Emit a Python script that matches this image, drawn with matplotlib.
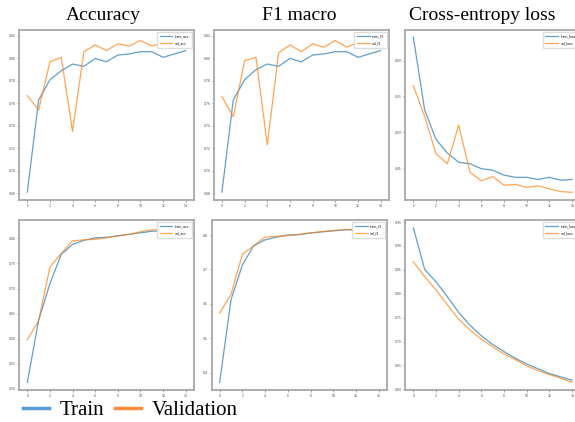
import matplotlib
matplotlib.use("Agg")
import matplotlib.pyplot as plt
from matplotlib.lines import Line2D
from matplotlib.ticker import MultipleLocator

epochs = list(range(15))

# top row: run 1
train_acc_1 = [0.681, 0.763, 0.781, 0.789, 0.795, 0.793, 0.800, 0.797, 0.803, 0.804, 0.806, 0.806, 0.801, 0.804, 0.807]
val_acc_1 = [0.767, 0.754, 0.797, 0.801, 0.735, 0.806, 0.812, 0.807, 0.813, 0.811, 0.816, 0.811, 0.814, 0.816, 0.815]
train_f1_1 = [0.681, 0.763, 0.781, 0.790, 0.795, 0.793, 0.800, 0.797, 0.803, 0.804, 0.806, 0.806, 0.801, 0.804, 0.807]
val_f1_1 = [0.766, 0.748, 0.798, 0.801, 0.723, 0.805, 0.812, 0.806, 0.813, 0.810, 0.816, 0.810, 0.814, 0.816, 0.815]
train_loss_1 = [0.633, 0.531, 0.490, 0.471, 0.458, 0.456, 0.449, 0.447, 0.440, 0.437, 0.437, 0.434, 0.437, 0.433, 0.434]
val_loss_1 = [0.565, 0.522, 0.470, 0.456, 0.510, 0.444, 0.432, 0.438, 0.426, 0.427, 0.423, 0.425, 0.421, 0.417, 0.416]

# bottom row: run 2
train_acc_2 = [0.513, 0.637, 0.710, 0.768, 0.788, 0.796, 0.801, 0.802, 0.805, 0.808, 0.811, 0.814, 0.815, 0.816, 0.817]
val_acc_2 = [0.598, 0.636, 0.743, 0.770, 0.795, 0.797, 0.798, 0.801, 0.805, 0.808, 0.813, 0.817, 0.817, 0.818, 0.818]
train_f1_2 = [0.372, 0.612, 0.713, 0.769, 0.786, 0.794, 0.800, 0.801, 0.806, 0.809, 0.812, 0.815, 0.815, 0.817, 0.818]
val_f1_2 = [0.573, 0.628, 0.744, 0.769, 0.794, 0.796, 0.798, 0.802, 0.806, 0.810, 0.813, 0.816, 0.816, 0.818, 0.818]
train_loss_2 = [0.938, 0.851, 0.825, 0.794, 0.761, 0.734, 0.712, 0.694, 0.679, 0.665, 0.653, 0.643, 0.633, 0.626, 0.619]
val_loss_2 = [0.867, 0.836, 0.808, 0.777, 0.747, 0.724, 0.705, 0.689, 0.674, 0.662, 0.649, 0.639, 0.631, 0.623, 0.615]

titles = ["Accuracy", "F1 macro", "Cross-entropy loss"]

W, H = 575, 422
fig = plt.figure(figsize=(W / 100, H / 100), dpi=100)

# panel boxes in pixels: left, right, top, bottom
boxes = [
    (19.4, 193.6, 30, 200), (214, 388.6, 30, 200), (405.4, 580, 30, 200),
    (19.4, 193.6, 220, 390), (211.7, 386.6, 220, 390), (405.4, 580, 220, 390),
]
panels = [
    (train_acc_1, val_acc_1, "train_acc", "val_acc", (0.674, 0.8253), 0.02),
    (train_f1_1, val_f1_1, "train_f1", "val_f1", (0.674, 0.8253), 0.02),
    (train_loss_1, val_loss_1, "train_loss", "val_loss", (0.4053, 0.6429), 0.05),
    (train_acc_2, val_acc_2, "train_acc", "val_acc", (0.498, 0.8365), 0.05),
    (train_f1_2, val_f1_2, "train_f1", "val_f1", (0.35, 0.8436), 0.1),
    (train_loss_2, val_loss_2, "train_loss", "val_loss", (0.5986, 0.9544), 0.05),
]

for (l, r, t, b), (tr, va, tl, vl, ylim, step) in zip(boxes, panels):
    ax = fig.add_axes([l / W, 1 - b / H, (r - l) / W, (b - t) / H])
    ax.plot(epochs, tr, color="#1f77b4", lw=0.9, alpha=0.7, label=tl)
    ax.plot(epochs, va, color="#ff7f0e", lw=0.9, alpha=0.7, label=vl)
    ax.set_xlim(-0.7, 14.7)
    ax.set_ylim(*ylim)
    ax.xaxis.set_major_locator(MultipleLocator(2))
    ax.yaxis.set_major_locator(MultipleLocator(step))
    ax.tick_params(labelsize=2.2, length=1.2, width=0.4, pad=1.5,
                   colors="#444444")
    for s in ax.spines.values():
        s.set_color("#a8a8a8")
        s.set_linewidth(1.3)
    ax.legend(loc="upper right", fontsize=2.3, handlelength=4,
              borderpad=0.8, labelspacing=0.9, framealpha=1,
              edgecolor="#dddddd")

# column titles
for x, name in zip([103, 299, 482], titles):
    fig.text(x / W, 1 - 15 / H, name, ha="center", va="center",
             fontsize=14, family="Liberation Serif")

# shared legend at the bottom
handles = [Line2D([], [], color="#5b9bd5", lw=2.5),
           Line2D([], [], color="#ff8c3a", lw=2.5)]
fig.legend(handles, ["Train", "Validation"], loc="center left",
           bbox_to_anchor=(4 / W, 1 - 410 / H), ncol=2, frameon=False,
           prop={"family": "Liberation Serif", "size": 15},
           handlelength=1.25, handletextpad=0.5, columnspacing=0.55)

fig.savefig("out.png", dpi=100)
